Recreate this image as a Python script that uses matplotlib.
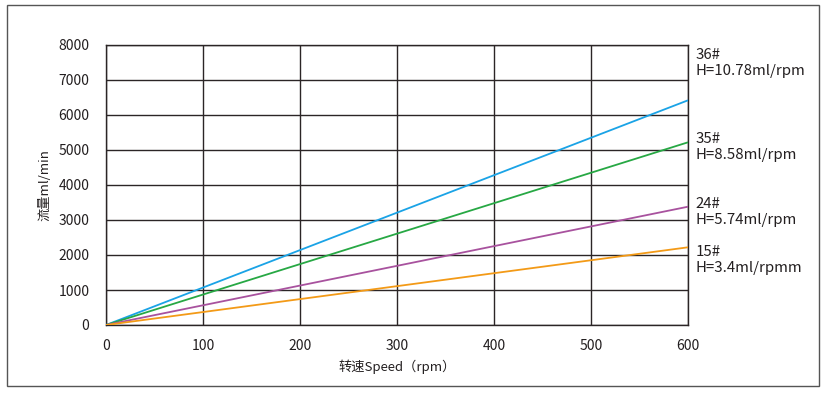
import numpy as np
import matplotlib; matplotlib.use('Agg'); import matplotlib.pyplot as plt
from matplotlib.patches import Rectangle

plt.rcParams['font.family'] = ['Noto Sans CJK SC', 'DejaVu Sans']

# ---- data ----
speed = [0, 600]                                  # rpm
flow_36 = [0, 6420]; flow_35 = [0, 5220]; flow_24 = [0, 3380]; flow_15 = [0, 2220]
series = [flow_36, flow_35, flow_24, flow_15]
colors = ['#1aa3e6', '#27a844', '#a8529e', '#f39a17']
labels = ['36#\nH=10.78ml/rpm', '35#\nH=8.58ml/rpm', '24#\nH=5.74ml/rpm', '15#\nH=3.4ml/rpmm']
label_y = [7490, 5090, 3230, 1860]
xticks = [0, 100, 200, 300, 400, 500, 600]
yticks = [0, 1000, 2000, 3000, 4000, 5000, 6000, 7000, 8000]

W, H = 829, 394
fig = plt.figure(figsize=(W/100, H/100), dpi=100)
ax = fig.add_axes([106/W, 1-325/H, (688-106)/W, (325-45)/H])

gc = '#2b2526'
for x in xticks: ax.axvline(x, color=gc, lw=1.0, zorder=1)
for y in yticks: ax.axhline(y, color=gc, lw=1.0, zorder=1)
for s, c in zip(series, colors):
    ax.plot(speed, s, color=c, lw=1.3, zorder=3, solid_capstyle='butt')

ax.set_xlim(0, 600); ax.set_ylim(0, 8000)
ax.set_xticks(xticks); ax.set_yticks(yticks)
ax.tick_params(axis='x', length=0, labelsize=10, colors='#231f20', pad=10)
ax.tick_params(axis='y', length=0, labelsize=10, colors='#231f20', pad=12)
for sp in ax.spines.values(): sp.set_color(gc); sp.set_linewidth(1.0)
ax.set_xlabel('转速Speed（rpm）', fontsize=9.5, color='#231f20', labelpad=5)
ax.set_ylabel('流量ml/min', fontsize=9.5, color='#231f20', labelpad=5)

for lab, y in zip(labels, label_y):
    ax.text(608, y, lab, fontsize=10.8, color='#231f20', va='center', ha='left',
            linespacing=1.15, clip_on=False)

# outer frame
fig.patches.append(Rectangle((7/W, 1-386/H), (819-7)/W, (386-5)/H, transform=fig.transFigure,
                             fill=False, edgecolor='#555555', lw=1.0))

fig.savefig('out.png', dpi=100)
